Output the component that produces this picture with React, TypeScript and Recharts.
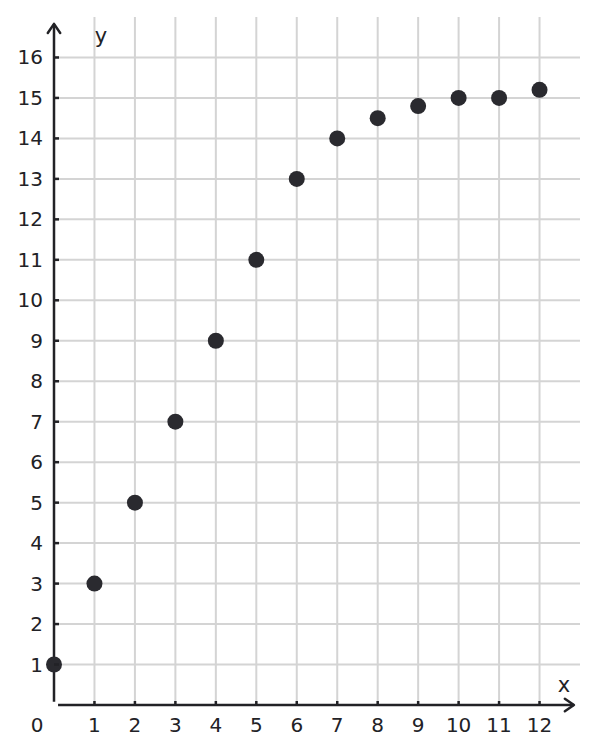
import { ScatterChart, Scatter, XAxis, YAxis, ReferenceLine } from "recharts";

const xValues = [0, 1, 2, 3, 4, 5, 6, 7, 8, 9, 10, 11, 12];
const yValues = [1, 3, 5, 7, 9, 11, 13, 14, 14.5, 14.8, 15, 15, 15.2];
const xTicks = [0, 1, 2, 3, 4, 5, 6, 7, 8, 9, 10, 11, 12];
const yTicks = [1, 2, 3, 4, 5, 6, 7, 8, 9, 10, 11, 12, 13, 14, 15, 16];

const points = xValues.map((x, i) => ({ x, y: yValues[i] }));

const INK = "#222226";
const GRID = "#d4d4d4";
const FONT = "DejaVu Sans, sans-serif";
const TICK_FONT = 20;

function XTick(props: any) {
  const { x, y, payload } = props;
  if (payload.value === 0) {
    return (
      <text x={x - 17} y={y + 20} textAnchor="middle" dominantBaseline="central" fontSize={TICK_FONT} fill={INK} fontFamily={FONT}>
        0
      </text>
    );
  }
  return (
    <g>
      <line x1={x} y1={y + 1} x2={x} y2={y - 4} stroke={INK} strokeWidth={2.5} />
      <text x={x} y={y + 20} textAnchor="middle" dominantBaseline="central" fontSize={TICK_FONT} fill={INK} fontFamily={FONT}>
        {payload.value}
      </text>
    </g>
  );
}

function YTick(props: any) {
  const { x, y, payload } = props;
  return (
    <g>
      <line x1={x} y1={y} x2={x + 5} y2={y} stroke={INK} strokeWidth={2.5} />
      <text x={x - 11} y={y} textAnchor="end" dominantBaseline="central" fontSize={TICK_FONT} fill={INK} fontFamily={FONT}>
        {payload.value}
      </text>
    </g>
  );
}

// axis line with an open arrow head at its far end, plus the axis name
function Arrow(props: any) {
  const { x1, y1, x2, y2, name, dx, dy } = props;
  const ang = Math.atan2(y2 - y1, x2 - x1);
  const len = 11;
  const spread = 0.6;
  const ax = x2 - len * Math.cos(ang - spread);
  const ay = y2 - len * Math.sin(ang - spread);
  const bx = x2 - len * Math.cos(ang + spread);
  const by = y2 - len * Math.sin(ang + spread);
  return (
    <g>
      <line x1={x1} y1={y1} x2={x2} y2={y2} stroke={INK} strokeWidth={2.5} />
      <polyline
        points={`${ax},${ay} ${x2},${y2} ${bx},${by}`}
        fill="none"
        stroke={INK}
        strokeWidth={2.5}
        strokeLinecap="round"
        strokeLinejoin="round"
      />
      <text x={x2 + dx} y={y2 + dy} textAnchor="middle" dominantBaseline="central" fontSize={21} fill={INK} fontFamily={FONT}>
        {name}
      </text>
    </g>
  );
}

function Dot(props: any) {
  return <circle cx={props.cx} cy={props.cy} r={8} fill="#2a2a2f" />;
}

export default function App() {
  return (
    <div style={{ position: "absolute", left: 0, top: 0, background: "#fff" }}>
      <ScatterChart width={598} height={754} margin={{ top: 17, right: 18, left: 0, bottom: 0 }}>
        <XAxis
          type="number"
          dataKey="x"
          domain={[0, 13]}
          ticks={xTicks}
          height={49}
          axisLine={false}
          tickLine={false}
          tickSize={0}
          tickMargin={0}
          tick={<XTick />}
          interval={0}
        />
        <YAxis
          type="number"
          dataKey="y"
          domain={[0, 17]}
          ticks={yTicks}
          width={54}
          axisLine={false}
          tickLine={false}
          tickSize={0}
          tickMargin={0}
          tick={<YTick />}
          interval={0}
        />
        {yTicks.map((v) => (
          <ReferenceLine key={`h${v}`} y={v} stroke={GRID} strokeWidth={2} />
        ))}
        {xTicks.slice(1).map((v) => (
          <ReferenceLine key={`v${v}`} x={v} stroke={GRID} strokeWidth={2} />
        ))}
        <ReferenceLine
          segment={[{ x: 0, y: 0.08 }, { x: 0, y: 16.83 }]}
          ifOverflow="visible"
          shape={(p: any) => <Arrow {...p} name="y" dx={47} dy={12} />}
        />
        <ReferenceLine
          segment={[{ x: 0.1, y: 0 }, { x: 12.85, y: 0 }]}
          ifOverflow="visible"
          shape={(p: any) => <Arrow {...p} name="x" dx={-10} dy={-20} />}
        />
        <Scatter data={points} shape={<Dot />} isAnimationActive={false} />
      </ScatterChart>
    </div>
  );
}
